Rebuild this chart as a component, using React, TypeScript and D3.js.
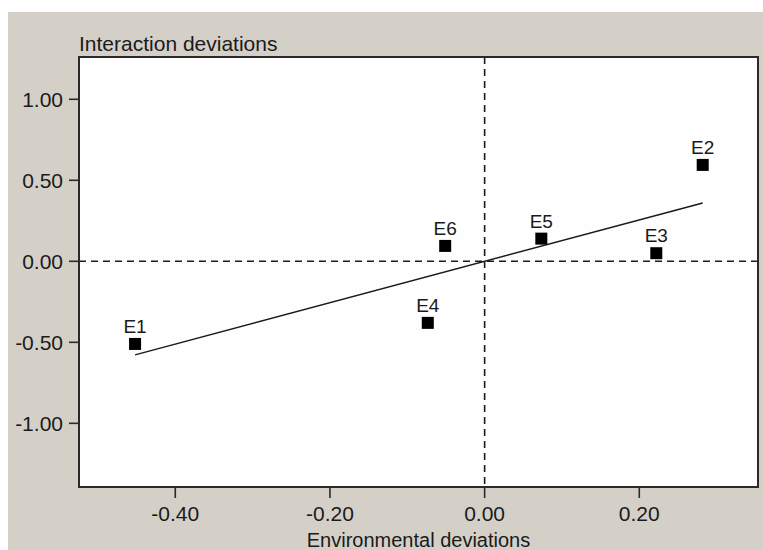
import React from "react";
import * as d3 from "d3";

const labels = ["E1", "E2", "E3", "E4", "E5", "E6"];
const envDev = [-0.452, 0.282, 0.222, -0.0735, 0.0733, -0.051];
const intDev = [-0.51, 0.595, 0.05, -0.38, 0.14, 0.095];
const xTicks = [-0.4, -0.2, 0.0, 0.2];
const yTicks = [1.0, 0.5, 0.0, -0.5, -1.0];
const xTitle = "Environmental deviations";
const yTitle = "Interaction deviations";

const W = 763;
const H = 550;
const plot = { left: 79, right: 758, top: 57, bottom: 487 };
const FONT = "'Liberation Sans', Arial, sans-serif";
const INK = "#1a1a1a";

const fmt = (v: number) => d3.format(".2f")(v).replace("\u2212", "-");

export default function App() {
  const x = d3.scaleLinear().domain([-0.5245, 0.3535]).range([plot.left, plot.right]);
  const y = d3.scaleLinear().domain([-1.393, 1.261]).range([plot.bottom, plot.top]);

  // least-squares line through origin
  const sxy = d3.sum(envDev.map((v, i) => v * intDev[i]));
  const sxx = d3.sum(envDev.map((v) => v * v));
  const slope = sxy / sxx;
  const [xmin, xmax] = d3.extent(envDev) as [number, number];
  const line = d3.line<number>().x((v) => x(v)).y((v) => y(slope * v));

  const sq = 12;

  return (
    <svg
      width={W}
      height={H}
      style={{ position: "absolute", left: 0, top: 0, display: "block" }}
    >
      <rect x={0} y={0} width={W} height={H} fill="#ffffff" />
      <rect x={8} y={12} width={W - 8} height={H - 12} fill="#d4d0c8" />
      <rect
        x={plot.left}
        y={plot.top}
        width={plot.right - plot.left}
        height={plot.bottom - plot.top}
        fill="#fefefe"
      />
      {/* zero lines */}
      <line
        x1={x(0)}
        x2={x(0)}
        y1={plot.top}
        y2={plot.bottom}
        stroke={INK}
        strokeWidth={1.6}
        strokeDasharray="7,5"
      />
      <line
        x1={plot.left}
        x2={plot.right}
        y1={y(0)}
        y2={y(0)}
        stroke={INK}
        strokeWidth={1.6}
        strokeDasharray="7,5"
      />
      {/* regression line */}
      <path d={line([xmin, xmax]) || ""} stroke={INK} strokeWidth={1.5} fill="none" />
      {/* points */}
      {labels.map((lab, i) => (
        <g key={lab}>
          <rect
            x={x(envDev[i]) - sq / 2}
            y={y(intDev[i]) - sq / 2}
            width={sq}
            height={sq}
            fill="#000"
          />
          <text
            x={x(envDev[i])}
            y={y(intDev[i]) - sq / 2 - 5}
            textAnchor="middle"
            fontFamily={FONT}
            fontSize={19}
            fill={INK}
          >
            {lab}
          </text>
        </g>
      ))}
      {/* frame */}
      <rect
        x={plot.left}
        y={plot.top}
        width={plot.right - plot.left}
        height={plot.bottom - plot.top}
        fill="none"
        stroke="#2a2a2a"
        strokeWidth={2}
      />
      {/* y axis ticks */}
      {yTicks.map((t) => (
        <g key={"y" + t}>
          <line x1={plot.left - 10} x2={plot.left} y1={y(t)} y2={y(t)} stroke="#2a2a2a" strokeWidth={1.6} />
          <text
            x={plot.left - 16}
            y={y(t)}
            dy="0.36em"
            textAnchor="end"
            fontFamily={FONT}
            fontSize={21}
            fill={INK}
          >
            {fmt(t)}
          </text>
        </g>
      ))}
      {/* x axis ticks */}
      {xTicks.map((t) => (
        <g key={"x" + t}>
          <line x1={x(t)} x2={x(t)} y1={plot.bottom} y2={plot.bottom + 11} stroke="#2a2a2a" strokeWidth={1.6} />
          <text
            x={x(t)}
            y={521}
            textAnchor="middle"
            fontFamily={FONT}
            fontSize={21}
            fill={INK}
          >
            {fmt(t)}
          </text>
        </g>
      ))}
      {/* titles */}
      <text x={plot.left} y={50.5} fontFamily={FONT} fontSize={21} fill={INK}>
        {yTitle}
      </text>
      <text
        x={(plot.left + plot.right) / 2}
        y={547}
        textAnchor="middle"
        fontFamily={FONT}
        fontSize={20}
        fill={INK}
      >
        {xTitle}
      </text>
    </svg>
  );
}
